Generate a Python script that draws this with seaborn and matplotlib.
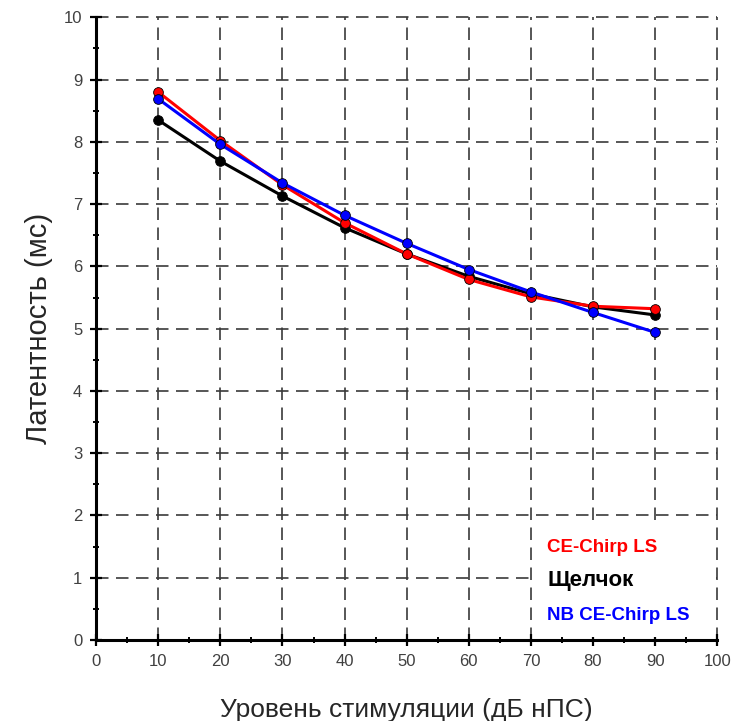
import pandas as pd
import matplotlib
matplotlib.use('Agg')
import matplotlib.pyplot as plt
import seaborn as sns
from matplotlib.ticker import MultipleLocator
from matplotlib.patches import Rectangle

# values
levels = [10, 20, 30, 40, 50, 60, 70, 80, 90]
click = [8.35, 7.69, 7.13, 6.62, 6.20, 5.84, 5.56, 5.35, 5.22]
ce_chirp = [8.80, 8.02, 7.31, 6.70, 6.20, 5.79, 5.51, 5.36, 5.32]
nb_ce_chirp = [8.69, 7.96, 7.34, 6.82, 6.37, 5.95, 5.59, 5.26, 4.94]

series_names = ['Щелчок', 'CE-Chirp LS', 'NB CE-Chirp LS']
series_colors = {'Щелчок': 'black', 'CE-Chirp LS': 'red', 'NB CE-Chirp LS': 'blue'}
legend_order = ['CE-Chirp LS', 'Щелчок', 'NB CE-Chirp LS']

df = pd.DataFrame({
    'level': levels * 3,
    'latency': click + ce_chirp + nb_ce_chirp,
    'series': [series_names[0]] * 9 + [series_names[1]] * 9 + [series_names[2]] * 9,
})

sns.set_style('white')
plt.rcParams['font.family'] = ['Liberation Sans Narrow', 'Liberation Sans', 'DejaVu Sans']

fig = plt.figure(figsize=(7.51, 7.21), dpi=100)
ax = fig.add_axes([0.128, 0.1123, 0.827, 0.8637])

for name in series_names:
    sub = df[df['series'] == name]
    sns.lineplot(data=sub, x='level', y='latency', color=series_colors[name],
                 marker='o', markersize=7, markeredgecolor='black', markeredgewidth=0.6,
                 linewidth=2.2, ax=ax, legend=False, zorder=3)

ax.set_xlim(0, 100)
ax.set_ylim(0, 10)
ax.xaxis.set_major_locator(MultipleLocator(10))
ax.xaxis.set_minor_locator(MultipleLocator(5))
ax.yaxis.set_major_locator(MultipleLocator(1))
ax.yaxis.set_minor_locator(MultipleLocator(0.5))

ax.grid(True, which='major', color='#3a3a3a', linewidth=1.2, linestyle=(0, (7.5, 4.5)))
for g in ax.get_xgridlines() + ax.get_ygridlines():
    g.set_clip_on(False)

for s in ['top', 'right']:
    ax.spines[s].set_visible(False)
for s in ['left', 'bottom']:
    ax.spines[s].set_color('black')
    ax.spines[s].set_linewidth(2.2)
    ax.spines[s].set_zorder(4)

ax.tick_params(which='major', direction='inout', length=8, width=1.6, color='black',
               labelsize=12, labelcolor='#404040', pad=6, bottom=True, left=True)
ax.tick_params(which='minor', direction='inout', length=5, width=1.4, color='black',
               bottom=True, left=True)

ax.set_xlabel('Уровень стимуляции (дБ нПС)', fontsize=19, labelpad=21)
ax.set_ylabel('Латентность (мс)', fontsize=21, labelpad=8)

# white box behind the text legend hides the grid there
ax.add_patch(Rectangle((70.5, 0.05), 28.6, 1.85, facecolor='white', edgecolor='none', zorder=2))

legend_y = [1.48, 0.95, 0.40]
legend_size = [13.5, 16, 13.5]
for name, yy, fs in zip(legend_order, legend_y, legend_size):
    ax.text(72.6, yy, name, color=series_colors[name], fontsize=fs, fontweight='bold',
            family=['Liberation Sans', 'DejaVu Sans'], va='center', ha='left', zorder=5)

fig.savefig('out.png', dpi=100)
